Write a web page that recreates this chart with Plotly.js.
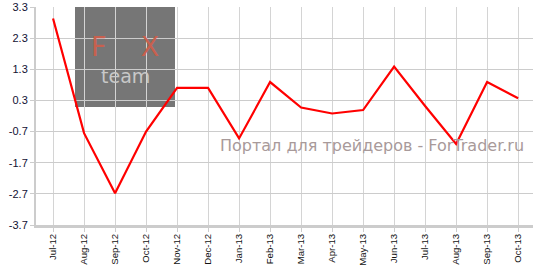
<!DOCTYPE html>
<html><head><meta charset="utf-8">
<script src="https://cdn.plot.ly/plotly-3.0.1.min.js"></script>
<style>html,body{margin:0;padding:0;background:#fff}#c{width:533px;height:266px}</style>
</head><body><div id="c"></div>
<script>
var months = ["Jul-12","Aug-12","Sep-12","Oct-12","Nov-12","Dec-12","Jan-13","Feb-13","Mar-13","Apr-13","May-13","Jun-13","Jul-13","Aug-13","Sep-13","Oct-13"];
var values = [2.93,-0.75,-2.68,-0.7,0.7,0.7,-0.92,0.89,0.07,-0.12,-0.01,1.39,0.12,-1.1,0.89,0.37];
var yTicks = [-3.7,-2.7,-1.7,-0.7,0.3,1.3,2.3,3.3];
var watermark = "Портал для трейдеров - ForTrader.ru";

var idx = months.map(function(m,i){return i;});
Plotly.newPlot('c', [{
  x: idx, y: values, type: 'scatter', mode: 'lines',
  line: {color: '#ff0000', width: 2.2}, hoverinfo: 'none'
}], {
  width: 533, height: 266,
  margin: {l: 36, r: 0, t: 7, b: 41},
  paper_bgcolor: '#fff', plot_bgcolor: 'rgba(0,0,0,0)',
  showlegend: false,
  xaxis: {
    range: [-0.55, 15.48], tickvals: idx, ticktext: months, tickangle: -90,
    showgrid: true, gridcolor: '#d4d4d4', gridwidth: 1,
    showline: true, linecolor: '#cccccc', linewidth: 3,
    ticks: 'outside', ticklen: 4, tickcolor: '#cccccc', tickwidth: 1,
    ticklabelstandoff: -2, ticklabeloverflow: 'allow',
    tickfont: {family: 'Liberation Sans, Arial', size: 9.6, color: '#111'},
    zeroline: false, fixedrange: true
  },
  yaxis: {
    range: [-3.7, 3.3001], tickvals: yTicks, ticktext: yTicks.map(function(v){return v.toFixed(1);}),
    showgrid: true, gridcolor: '#cccccc', gridwidth: 1,
    showline: true, linecolor: '#cccccc', linewidth: 2,
    ticks: 'outside', ticklen: 4, tickcolor: '#cccccc',
    ticklabeloverflow: 'allow',
    tickfont: {family: 'Liberation Sans, Arial', size: 11, color: '#111133'},
    zeroline: false, fixedrange: true
  },
  shapes: [{
    type: 'rect', xref: 'paper', yref: 'paper', layer: 'below',
    x0: (75-36)/497, x1: (175-36)/497, y0: (225-107)/218, y1: (225-7)/218,
    fillcolor: '#767676', line: {width: 0}
  }],
  annotations: [
    {xref: 'paper', yref: 'paper', x: (125-36)/497, y: (225-46)/218, text: 'F\u00a0\u00a0\u00a0\u00a0X', showarrow: false,
     font: {family: 'DejaVu Sans, Liberation Sans', size: 27, color: '#c8604e'}, xanchor: 'center', yanchor: 'middle'},
    {xref: 'paper', yref: 'paper', x: (125-36)/497, y: (225-76)/218, text: 'team', showarrow: false,
     font: {family: 'DejaVu Sans, Liberation Sans', size: 19, color: '#c8c8c8'}, xanchor: 'center', yanchor: 'middle'},
    {xref: 'paper', yref: 'paper', x: (526-36)/497, y: (225-145)/218, text: watermark, showarrow: false,
     font: {family: 'DejaVu Sans', size: 16, color: '#a89a9a'}, xanchor: 'right', yanchor: 'middle'}
  ]
}, {displayModeBar: false, staticPlot: true});
</script></body></html>
